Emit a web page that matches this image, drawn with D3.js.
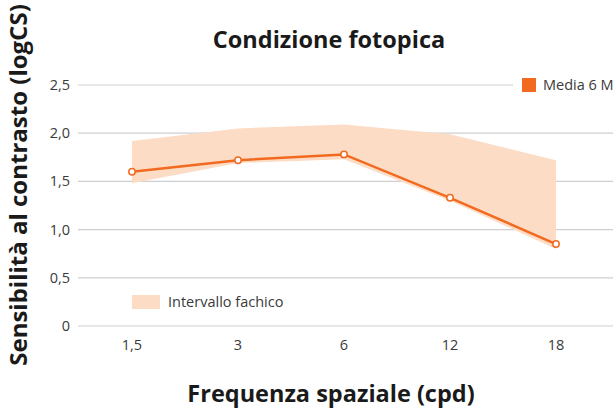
<!DOCTYPE html>
<html>
<head>
<meta charset="utf-8">
<script src="https://cdn.jsdelivr.net/npm/d3@7"></script>
<style>
  body { margin: 0; background: #fff; }
  svg { display: block; font-family: "Open Sans", "Noto Sans", sans-serif; }
</style>
</head>
<body>
<svg id="chart" viewBox="0 0 616 409" width="616" height="409"></svg>
<script>
// data
const frequencies = ["1,5", "3", "6", "12", "18"];
const media6M = [1.60, 1.72, 1.78, 1.33, 0.85];
const intervalLow = [1.48, 1.69, 1.73, 1.30, 0.80];
const intervalHigh = [1.92, 2.05, 2.09, 1.99, 1.72];
const yTicks = [0, 0.5, 1.0, 1.5, 2.0, 2.5];

const svg = d3.select("#chart");

const plotLeft = 78, plotRight = 613, plotTop = 85, plotBottom = 326;

const x = d3.scalePoint()
    .domain(frequencies)
    .range([79, 609])
    .padding(0.5);

const y = d3.scaleLinear()
    .domain([0, 2.5])
    .range([plotBottom, plotTop]);

const fmt = d => d === 0 ? "0" : d.toFixed(1).replace(".", ",");

// gridlines
svg.append("g")
    .selectAll("line")
    .data(yTicks)
    .enter()
    .append("line")
    .attr("x1", plotLeft)
    .attr("x2", d => d === 2.5 ? 513 : plotRight)
    .attr("y1", d => y(d))
    .attr("y2", d => y(d))
    .attr("stroke", "#cfcfcf")
    .attr("stroke-width", 1.2);

// y tick labels
svg.append("g")
    .selectAll("text")
    .data(yTicks)
    .enter()
    .append("text")
    .attr("x", 70)
    .attr("y", d => y(d))
    .attr("dy", "0.35em")
    .attr("text-anchor", "end")
    .attr("font-size", 14.5)
    .attr("fill", "#3a3a3a")
    .text(fmt);

// x tick labels
svg.append("g")
    .selectAll("text")
    .data(frequencies)
    .enter()
    .append("text")
    .attr("x", d => x(d))
    .attr("y", 350)
    .attr("text-anchor", "middle")
    .attr("font-size", 14.5)
    .attr("fill", "#3a3a3a")
    .text(d => d);

// band
const bandData = frequencies.map((f, i) => ({ f, lo: intervalLow[i], hi: intervalHigh[i] }));
svg.append("path")
    .datum(bandData)
    .attr("fill", "#fcdcc5")
    .attr("d", d3.area()
        .x(d => x(d.f))
        .y0(d => y(d.lo))
        .y1(d => y(d.hi)));

// mean line
const lineData = frequencies.map((f, i) => ({ f, v: media6M[i] }));
svg.append("path")
    .datum(lineData)
    .attr("fill", "none")
    .attr("stroke", "#f26a1f")
    .attr("stroke-width", 2.5)
    .attr("d", d3.line()
        .x(d => x(d.f))
        .y(d => y(d.v)));

svg.append("g")
    .selectAll("circle")
    .data(lineData)
    .enter()
    .append("circle")
    .attr("cx", d => x(d.f))
    .attr("cy", d => y(d.v))
    .attr("r", 3.2)
    .attr("fill", "#fff")
    .attr("stroke", "#f26a1f")
    .attr("stroke-width", 1.5);

// legends
svg.append("rect")
    .attr("x", 522).attr("y", 78)
    .attr("width", 14).attr("height", 14)
    .attr("fill", "#f26a1f");
svg.append("text")
    .attr("x", 543).attr("y", 90)
    .attr("font-size", 14.5)
    .attr("fill", "#3a3a3a")
    .text("Media 6 M");

svg.append("rect")
    .attr("x", 132).attr("y", 295)
    .attr("width", 28).attr("height", 14)
    .attr("fill", "#fcdcc5");
svg.append("text")
    .attr("x", 168).attr("y", 307)
    .attr("font-size", 14.5)
    .attr("fill", "#3a3a3a")
    .text("Intervallo fachico");

// titles
svg.append("text")
    .attr("x", 329).attr("y", 48)
    .attr("text-anchor", "middle")
    .attr("font-size", 23.5)
    .attr("font-weight", "bold")
    .attr("fill", "#1a1a1a")
    .text("Condizione fotopica");

svg.append("text")
    .attr("x", 331).attr("y", 402)
    .attr("text-anchor", "middle")
    .attr("font-size", 23.5)
    .attr("font-weight", "bold")
    .attr("fill", "#1a1a1a")
    .text("Frequenza spaziale (cpd)");

svg.append("text")
    .attr("transform", "translate(27,185) rotate(-90)")
    .attr("text-anchor", "middle")
    .attr("font-size", 24)
    .attr("font-weight", "bold")
    .attr("fill", "#1a1a1a")
    .text("Sensibilità al contrasto (logCS)");
</script>
</body>
</html>
